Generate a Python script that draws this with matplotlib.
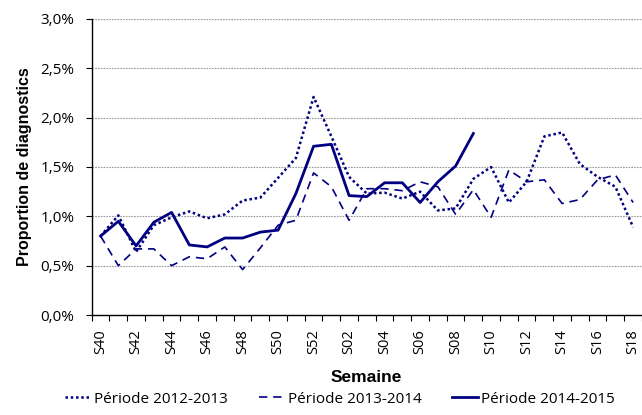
import matplotlib.pyplot as plt
from matplotlib import font_manager

# weeks S40 .. S52, S01 .. S18
weeks = ["S%02d" % w for w in list(range(40, 53)) + list(range(1, 19))]

# proportion de diagnostics (%)
p2012_2013 = [0.80, 1.01, 0.64, 0.91, 0.99, 1.05, 0.98, 1.02, 1.16, 1.19, 1.39,
              1.59, 2.21, 1.81, 1.40, 1.23, 1.24, 1.18, 1.25, 1.06, 1.08, 1.38,
              1.50, 1.14, 1.35, 1.81, 1.85, 1.53, 1.40, 1.30, 0.89]
p2013_2014 = [0.80, 0.50, 0.67, 0.67, 0.50, 0.59, 0.57, 0.69, 0.46, 0.68, 0.91,
              0.96, 1.44, 1.30, 0.96, 1.28, 1.28, 1.26, 1.35, 1.30, 1.02, 1.27,
              0.99, 1.47, 1.35, 1.37, 1.13, 1.17, 1.37, 1.42, 1.14]
p2014_2015 = [0.80, 0.95, 0.70, 0.94, 1.04, 0.71, 0.69, 0.78, 0.78, 0.84, 0.86,
              1.23, 1.71, 1.73, 1.21, 1.20, 1.34, 1.34, 1.14, 1.35, 1.51, 1.84]

yticks = [0, 0.5, 1.0, 1.5, 2.0, 2.5, 3.0]

navy = "#000080"
installed = {f.name for f in font_manager.fontManager.ttflist}
reg_font = ["Open Sans", "DejaVu Sans"]
bold_font = ["Liberation Sans Narrow", "Liberation Sans", "DejaVu Sans"]
bold_font = [f for f in bold_font if f in installed] or ["DejaVu Sans"]

plt.rcParams["font.family"] = reg_font

fig = plt.figure(figsize=(6.42, 4.15), dpi=100)
# the chart runs past the right edge of the picture, as in the original
ax = fig.add_axes([91.7 / 642, 100 / 415, (642 - 91.7) / 642, 296 / 415])

ax.plot(range(len(p2012_2013)), p2012_2013, color=navy, lw=1.8,
        linestyle=(0, (1, 1.1)), label="Période 2012-2013")
ax.plot(range(len(p2013_2014)), p2013_2014, color=navy, lw=1.2,
        linestyle=(0, (5, 3.5)), label="Période 2013-2014")
ax.plot(range(len(p2014_2015)), p2014_2015, color=navy, lw=2.0,
        linestyle="-", label="Période 2014-2015")

ax.set_ylim(0, 3.0)
ax.set_xlim(-0.5, 30.16)

ax.set_yticks(yticks)
ax.set_yticklabels([("%.1f%%" % v).replace(".", ",") for v in yticks], fontsize=11)
for v in yticks[1:]:
    ax.axhline(v, color="#9a9a9a", lw=0.8, linestyle=(0, (1.5, 1)), zorder=0)

# tick marks between categories, labels every second week
ax.set_xticks([i - 0.5 for i in range(len(weeks) + 1)])
ax.set_xticklabels([])
ax.set_xticks(range(0, len(weeks), 2), minor=True)
ax.set_xticklabels(weeks[::2], minor=True, rotation=90, fontsize=10.5)
ax.tick_params(axis="x", which="major", direction="out", length=4, width=0.8)
ax.tick_params(axis="x", which="minor", length=0, pad=10)
ax.tick_params(axis="y", direction="out", length=4, width=0.8, pad=8.5)

for s in ["top", "right"]:
    ax.spines[s].set_visible(False)
ax.spines["left"].set_linewidth(1.0)
ax.spines["bottom"].set_linewidth(1.0)

ax.set_ylabel("Proportion de diagnostics", family=bold_font, fontweight="bold",
              fontsize=11.5, labelpad=6)
fig.text(366 / 642, 1 - 377 / 415, "Semaine", family=bold_font, fontweight="bold",
         fontsize=12.5, ha="center", va="center")

fig.legend(loc="center", bbox_to_anchor=(340 / 642, 16 / 415), ncol=3, frameon=False,
           fontsize=11, handlelength=1.7, handletextpad=0.2, columnspacing=2.0,
           borderaxespad=0)

fig.savefig("out.png", dpi=100)
